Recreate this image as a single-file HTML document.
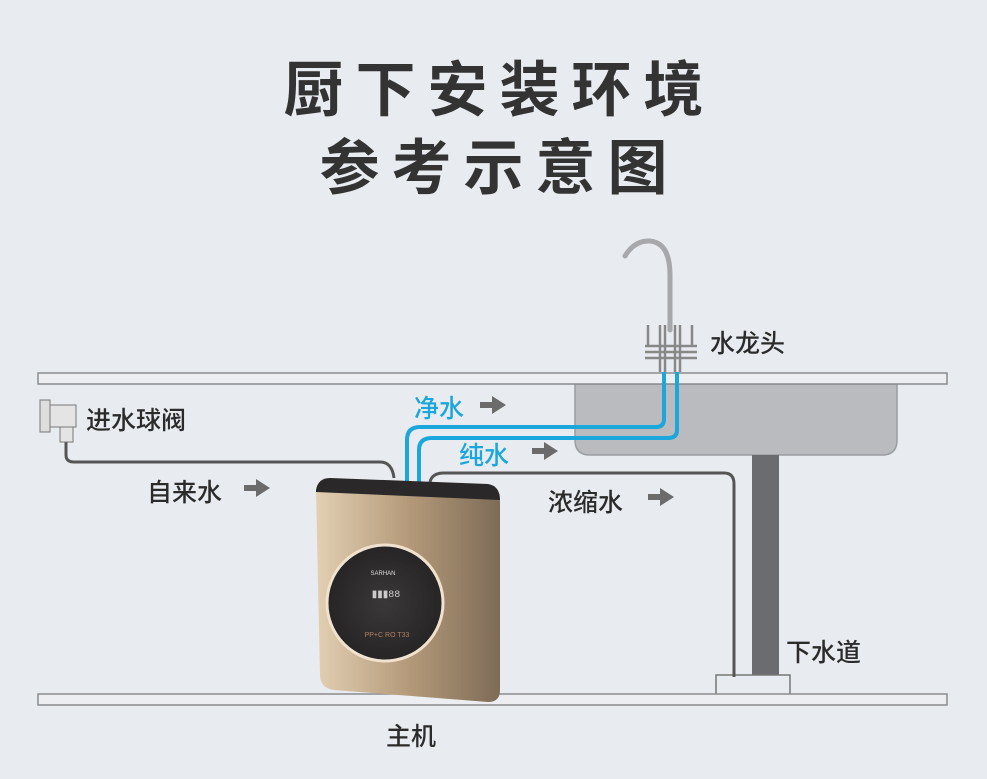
<!DOCTYPE html>
<html><head><meta charset="utf-8"><style>
body{margin:0;width:987px;height:779px;background:#e8ebef;overflow:hidden;position:relative;font-family:"Liberation Sans","Noto Sans CJK SC",sans-serif}
.t{position:absolute;color:#2b2b2b;white-space:nowrap;font-weight:500}
</style></head><body>
<div class="t" style="left:6px;width:987px;text-align:center;top:52px;font-size:60px;letter-spacing:12px;color:#333;line-height:78px;font-weight:bold">厨下安装环境<br>参考示意图</div>
<svg width="987" height="779" style="position:absolute;left:0;top:0">
<defs>
<linearGradient id="g" x1="0" x2="1"><stop offset="0" stop-color="#e3cfb3"/><stop offset="0.5" stop-color="#b49a7a"/><stop offset="1" stop-color="#7e6b57"/></linearGradient>
<radialGradient id="c"><stop offset="0" stop-color="#3a3838"/><stop offset="1" stop-color="#262424"/></radialGradient>
</defs>
<path d="M575 384 H897 V440 Q897 455 882 455 H590 Q575 455 575 440 Z" fill="#b9bbbf" stroke="#9a9da2" stroke-width="1.5"/>
<rect x="752" y="455" width="27" height="222" fill="#6a6c70"/>
<rect x="716" y="675" width="74" height="20" fill="#e8ebef" stroke="#777" stroke-width="1.5"/>
<rect x="38" y="373" width="909" height="11" fill="#eceef1" stroke="#8a8c90" stroke-width="1.5"/>
<rect x="38" y="694" width="909" height="11" fill="#eceef1" stroke="#8a8c90" stroke-width="1.5"/>
<path d="M66 440 V455 Q66 462 74 462 H380 Q392 462 394 478" fill="none" stroke="#555" stroke-width="3"/>
<path d="M430 482 Q432 473 444 473 H724 Q734 473 734 484 V677" fill="none" stroke="#555" stroke-width="3"/>
<rect x="40" y="400" width="10" height="32" fill="#ddd" stroke="#777"/>
<rect x="50" y="405" width="26" height="22" fill="#e4e4e4" stroke="#777"/>
<rect x="60" y="427" width="13" height="15" fill="#e4e4e4" stroke="#777"/>
<path d="M407 482 V440 Q407 427 420 427 H656 Q664 427 664 419 V372" fill="none" stroke="#1ba7db" stroke-width="4"/>
<path d="M419 482 V450 Q419 438 432 438 H668 Q677 438 677 430 V372" fill="none" stroke="#1ba7db" stroke-width="4"/>
<path d="M670 330 V275 Q670 243 650 241 Q635 240 625 256" fill="none" stroke="#a6a8ab" stroke-width="5" stroke-linecap="round"/>
<g fill="none" stroke="#888" stroke-width="2.5">
<path d="M648 325 V346 M692 325 V346 M660 325 V372 M680 325 V372 M665 325 V372 M675 325 V372"/>
<path d="M645 346 H697 M645 352 H697 M645 358 H697"/>
</g>
<g fill="#6b6b6b">
<path d="M480 402 H492 V396 L506 405 L492 414 V408 H480Z"/>
<path d="M532 448 H544 V442 L558 451 L544 460 V454 H532Z"/>
<path d="M244 485 H256 V479 L270 488 L256 497 V491 H244Z"/>
<path d="M648 494 H660 V488 L674 497 L660 506 V500 H648Z"/>
</g>
<path d="M316 490 Q318 480 330 479 L488 488 Q500 490 500 502 V690 Q500 702 488 702 L334 690 Q320 688 320 675 Z" fill="url(#g)"/>
<path d="M316 490 Q318 478 330 478 L488 484 Q500 486 500 500 L316 492Z" fill="#2a2828"/>
<circle cx="385" cy="603" r="58" fill="url(#c)" stroke="#f0e2cf" stroke-width="3"/>
<text x="383" y="575" font-size="6" fill="#ddd" text-anchor="middle" font-family="Liberation Sans">SARHAN</text>
<text x="386" y="597" font-size="10" fill="#ccc" text-anchor="middle" font-family="Liberation Mono">▮▮▮88</text>
<text x="387" y="637" font-size="7" fill="#b08060" text-anchor="middle" font-family="Liberation Sans">PP+C  RO  T33</text>
</svg>
<div class="t" style="left:710px;top:324px;font-size:25px">水龙头</div>
<div class="t" style="left:86px;top:401px;font-size:25px">进水球阀</div>
<div class="t" style="left:414px;top:389px;font-size:25px;color:#1ba7db">净水</div>
<div class="t" style="left:459px;top:436px;font-size:25px;color:#1ba7db">纯水</div>
<div class="t" style="left:147px;top:473px;font-size:25px">自来水</div>
<div class="t" style="left:548px;top:483px;font-size:25px">浓缩水</div>
<div class="t" style="left:786px;top:633px;font-size:25px">下水道</div>
<div class="t" style="left:386px;top:717px;font-size:25px">主机</div>
</body></html>
